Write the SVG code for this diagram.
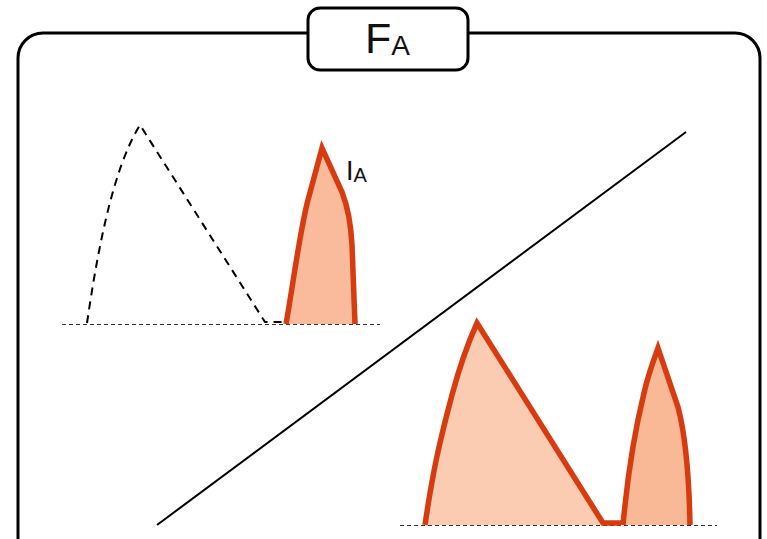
<svg xmlns="http://www.w3.org/2000/svg" width="767" height="539" viewBox="0 0 767 539">
<style>
.frame{fill:#fff;stroke:#000;stroke-width:3}
.base{stroke:#333;stroke-width:1.2;stroke-dasharray:4 3;fill:none}
.ghost{fill:none;stroke:#000;stroke-width:2;stroke-dasharray:8 6}
.hump{fill:none;stroke:#d63c10;stroke-width:5.5;stroke-linejoin:miter}
.txt{font-family:"Liberation Sans",Arial,sans-serif;fill:#111}
</style>
<rect width="767" height="539" fill="#fff"/>
<g id="frame">
<rect class="frame" x="18" y="33" width="742" height="540" rx="25"/>
</g>
<g id="title">
<rect class="frame" x="308" y="8" width="160" height="62" rx="12"/>
<text class="txt" x="365" y="53" font-size="43">F<tspan font-size="28" dy="2">A</tspan></text>
</g>
<g id="connectors">
<line x1="157" y1="525" x2="686" y2="132" stroke="#000" stroke-width="2"/>
<line class="base" x1="62" y1="324.5" x2="380" y2="324.5"/>
<line class="base" x1="400" y1="525.5" x2="717" y2="525.5"/>
</g>
<g id="ghost">
<path class="ghost" d="M87,323 C97,255 112,170 140,125 L265,322 L283,322"/>
</g>
<g id="pulse-left">
<path fill="#f9bb9c" d="M286,324 C293,285 300,230 308,200 L322,148 L342,192 C347,205 351,225 352,245 L355,324 Z"/>
<path class="hump" d="M286,324 C293,285 300,230 308,200 L322,148 L342,192 C347,205 351,225 352,245 L355,324"/>
<text class="txt" x="346" y="180" font-size="27">I<tspan font-size="20" dy="2">A</tspan></text>
</g>
<g id="pulse-right">
<path fill="#fbcbb2" d="M425,525 C433,470 440,440 452,395 C460,365 467,345 477,323 L603,523 L619,523 L619,525 Z"/>
<path class="hump" d="M425,525 C433,470 440,440 452,395 C460,365 467,345 477,323 L603,523 L621,523"/>
<path fill="#f9b896" d="M623,525 C628,470 635,430 644,393 C648,375 653,362 658,348 L678,407 C684,430 689,470 690,525 Z"/>
<path class="hump" d="M623,525 C628,470 635,430 644,393 C648,375 653,362 658,348 L678,407 C684,430 689,470 690,525"/>
</g>
</svg>
